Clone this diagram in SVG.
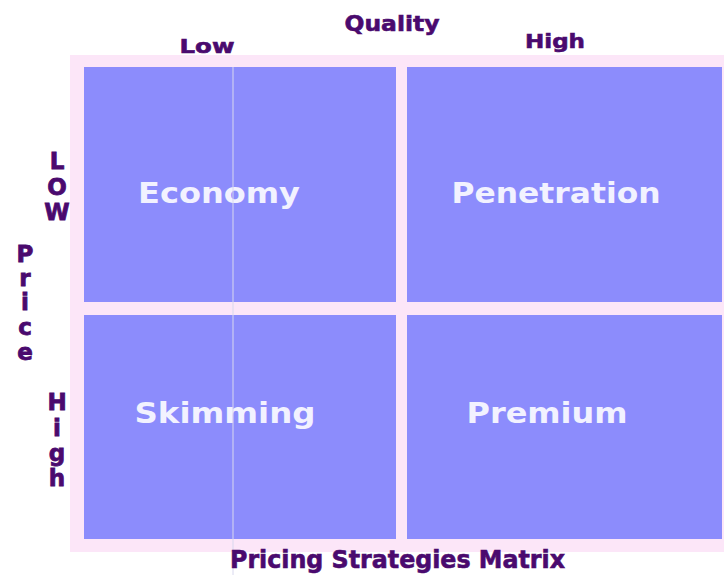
<svg xmlns="http://www.w3.org/2000/svg" width="724" height="580" viewBox="0 0 724 580">
<style>
.lbl{font-family:"DejaVu Sans",Verdana,sans-serif;font-weight:bold;fill:#4a0a6e;stroke:#4a0a6e;stroke-width:0.6}
.q{font-family:"DejaVu Sans",Verdana,sans-serif;font-weight:bold;fill:#f2f2ff;font-size:28px;text-anchor:middle}
.cell{fill:#8c8cfc}
.v{font-family:"DejaVu Sans",Verdana,sans-serif;font-weight:bold;fill:#4a0a6e;stroke:#4a0a6e;stroke-width:0.8;font-size:23px;text-anchor:middle}
</style>
<rect width="724" height="580" fill="#ffffff"/>
<rect x="70" y="55" width="654" height="497" fill="#fce6f8"/>
<g id="economy"><rect class="cell" x="84" y="67" width="312" height="235"/><text class="q" x="219" y="203" textLength="162" lengthAdjust="spacingAndGlyphs">Economy</text></g>
<g id="penetration"><rect class="cell" x="407" y="67" width="315" height="235"/><text class="q" x="556" y="203" textLength="209" lengthAdjust="spacingAndGlyphs">Penetration</text></g>
<g id="skimming"><rect class="cell" x="84" y="315" width="312" height="224"/><text class="q" x="225" y="423" textLength="181" lengthAdjust="spacingAndGlyphs">Skimming</text></g>
<g id="premium"><rect class="cell" x="407" y="315" width="315" height="224"/><text class="q" x="547" y="423" textLength="161" lengthAdjust="spacingAndGlyphs">Premium</text></g>
<g id="connectors"><line x1="233" y1="67" x2="233" y2="575" stroke="#d8d8ee" stroke-width="1"/></g>
<g id="labels">
<text class="lbl" x="392" y="31" font-size="22" text-anchor="middle" textLength="95" lengthAdjust="spacingAndGlyphs">Quality</text>
<text class="lbl" x="207" y="53" font-size="20" text-anchor="middle" textLength="55" lengthAdjust="spacingAndGlyphs">Low</text>
<text class="lbl" x="555" y="48" font-size="20" text-anchor="middle" textLength="60" lengthAdjust="spacingAndGlyphs">High</text>
<text class="v"><tspan x="57" y="169">L</tspan><tspan x="57" y="195">O</tspan><tspan x="57" y="220">W</tspan></text>
<text class="v"><tspan x="25" y="262">P</tspan><tspan x="25" y="286">r</tspan><tspan x="25" y="310">i</tspan><tspan x="25" y="335">c</tspan><tspan x="25" y="360">e</tspan></text>
<text class="v"><tspan x="57" y="410">H</tspan><tspan x="57" y="436">i</tspan><tspan x="57" y="461">g</tspan><tspan x="57" y="486">h</tspan></text>
<text class="lbl" x="230" y="568" font-size="24" textLength="335" lengthAdjust="spacingAndGlyphs">Pricing Strategies Matrix</text>
</g>
</svg>
